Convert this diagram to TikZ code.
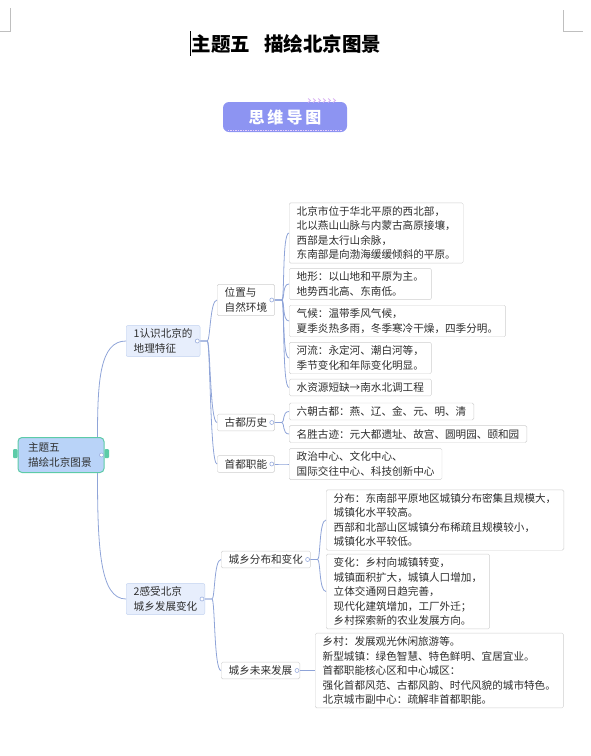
\documentclass[tikz,border=0pt]{standalone}
\usepackage{fontspec}
\setmainfont{Noto Sans CJK SC}
\usetikzlibrary{calc}
\definecolor{mmtext}{HTML}{2E2E2E}
\definecolor{mmedge}{HTML}{8FA4D8}
\definecolor{mmknob}{HTML}{9AADDD}
\definecolor{mmlone}{HTML}{C3D2F0}
\definecolor{mmlonefill}{HTML}{E7EEFC}
\definecolor{mmbox}{HTML}{CFCFCF}
\definecolor{mmroot}{HTML}{B9D3F8}
\definecolor{mmrootline}{HTML}{5DCBA8}
\definecolor{mmbadge}{HTML}{8D94F2}
\definecolor{mmbadgerim}{HTML}{E6CFFA}
\definecolor{mmchev}{HTML}{D9B3F2}
\definecolor{mmcrop}{HTML}{BFBFBF}

\begin{document}
\begin{tikzpicture}[x=1pt,y=-1pt,
  every node/.style={font=\fontsize{10.6}{14.5}\selectfont,text=mmtext},
  topic/.style={draw=mmlone,fill=mmlonefill,rounded corners=2pt,align=left,
    inner xsep=7.5pt,inner ysep=3.5pt,anchor=west},
  sub/.style={draw=mmbox,fill=white,rounded corners=1.5pt,align=left,
    inner xsep=7.5pt,inner ysep=3.5pt,anchor=west},
  link/.style={draw=mmedge,line width=0.8pt},
  knob/.style={draw=mmknob,fill=white,line width=0.6pt}]
\useasboundingbox (0,0) rectangle (591,756);
% crop marks and cursor
\draw[mmcrop,line width=0.8pt] (10,8) -- (10,31) -- (0,31);
\draw[mmcrop,line width=0.8pt] (563,10) -- (563,31) -- (583,31);
\node[font=\fontsize{19.5}{22}\selectfont\bfseries,text=black] (title) at (286.5,44)
  {主题五\hspace{0.7em}描绘北京图景};
\draw[black,line width=1pt] (190,31) -- (190,56);
% badge
\node[fill=mmbadge,rounded corners=6pt,minimum width=124pt,minimum height=30pt,
  text=white,font=\fontsize{16}{18}\selectfont\bfseries] (badge) at (285,117)
  {思\hspace{3pt}维\hspace{3pt}导\hspace{3pt}图};
\draw[mmbadgerim,line width=1pt,dash pattern=on 1.5pt off 1pt]
  ($(badge.south west)+(5,-1.5)$) -- ($(badge.south east)+(-5,-1.5)$);
\foreach \x in {0,...,5} {\draw[mmchev,line width=0.8pt] (308+5*\x,98.5) -- (310.5+5*\x,100.5) -- (308+5*\x,102.5);}
% root
\fill[mmrootline,rounded corners=1pt] (13,449) rectangle (17.5,458);
\fill[mmrootline,rounded corners=1pt] (104.5,449) rectangle (109,458);
\node[draw=mmrootline,fill=mmroot,line width=1pt,rounded corners=4pt,align=left,
  text width=66pt,inner xsep=10pt,minimum height=35pt] (root) at (61,455)
  {主题五\\描绘北京图景};
% main topics
\node[topic] (geo) at (126,341) {1认识北京的\\地理特征};
\node[topic] (town) at (126,599) {2感受北京\\城乡发展变化};
\node[sub] (loc) at (217,300) {位置与\\自然环境};
\node[sub] (hist) at (217,422.5) {古都历史};
\node[sub] (capf) at (217,464) {首都职能};
\node[sub] (dist) at (221,559.5) {城乡分布和变化};
\node[sub] (fut) at (221,670.5) {城乡未来发展};
% details
\node[sub] (loc1) at (289,233) {北京市位于华北平原的西北部，\\北以燕山山脉与内蒙古高原接壤，\\西部是太行山余脉，\\东南部是向渤海缓缓倾斜的平原。};
\node[sub] (loc2) at (289,284) {地形：以山地和平原为主。\\地势西北高、东南低。};
\node[sub] (loc3) at (289,321) {气候：温带季风气候，\\夏季炎热多雨，冬季寒冷干燥，四季分明。};
\node[sub] (loc4) at (289,358) {河流：永定河、潮白河等，\\季节变化和年际变化明显。};
\node[sub] (loc5) at (289,387.5) {水资源短缺→南水北调工程};
\node[sub] (hist1) at (289,411.5) {六朝古都：燕、辽、金、元、明、清};
\node[sub] (hist2) at (289,434) {名胜古迹：元大都遗址、故宫、圆明园、颐和园};
\node[sub] (cap1) at (289,464) {政治中心、文化中心、\\国际交往中心、科技创新中心};
\node[sub] (dist1) at (326,520) {分布：东南部平原地区城镇分布密集且规模大，\\城镇化水平较高。\\西部和北部山区城镇分布稀疏且规模较小，\\城镇化水平较低。};
\node[sub] (dist2) at (326,591.5) {变化：乡村向城镇转变，\\城镇面积扩大，城镇人口增加，\\立体交通网日趋完善，\\现代化建筑增加，工厂外迁；\\乡村探索新的农业发展方向。};
\node[sub] (fut1) at (315,670.5) {乡村：发展观光休闲旅游等。\\新型城镇：绿色智慧、特色鲜明、宜居宜业。\\首都职能核心区和中心城区：\\强化首都风范、古都风韵、时代风貌的城市特色。\\北京城市副中心：疏解非首都职能。};
% links
\draw[link] ($(root.north east)+(-7,0)$) .. controls +(0,-57) and +(-26,0) .. (geo.west);
\draw[link] ($(root.south east)+(-7,0)$) .. controls +(0,75) and +(-26,0) .. (town.west);
\foreach \p/\c in {geo/loc,geo/hist,geo/capf,town/dist,town/fut,
  loc/loc1,loc/loc2,loc/loc3,loc/loc4,loc/loc5,hist/hist1,hist/hist2,
  capf/cap1,dist/dist1,dist/dist2,fut/fut1}
  {\draw[link] (\p.east) -- ++(7,0) .. controls +(3,0) and +(-7,0) .. (\c.west);}
\foreach \p in {root,geo,town,loc,hist,capf,dist,fut}
  {\draw[knob] ($(\p.east)+(-3,0)$) circle (2pt);}
\end{tikzpicture}
\end{document}
